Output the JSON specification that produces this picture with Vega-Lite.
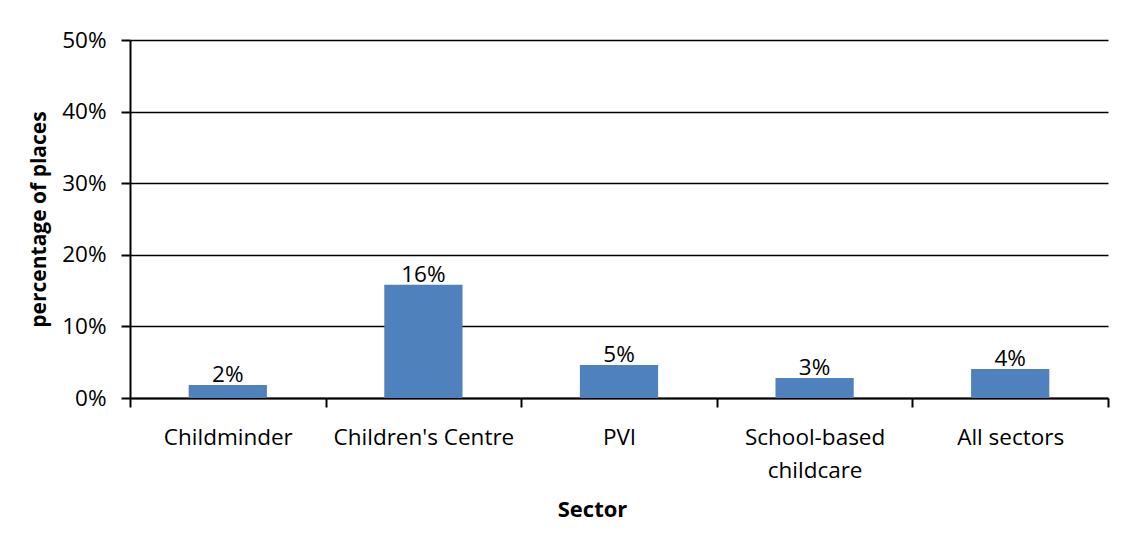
{
  "$schema": "https://vega.github.io/schema/vega-lite/v6.json",
  "autosize": "none",
  "width": 978,
  "height": 358,
  "padding": {"left": 130, "top": 40, "right": 20, "bottom": 154},
  "background": "white",
  "config": {
    "font": "Open Sans",
    "view": {"stroke": null},
    "axis": {"labelFont": "Open Sans", "titleFont": "Open Sans", "labelColor": "black", "titleColor": "black"}
  },
  "data": {
    "values": [
      {"sector": "Childminder", "share": 0.018, "label": "2%"},
      {"sector": "Children's Centre", "share": 0.158, "label": "16%"},
      {"sector": "PVI", "share": 0.046, "label": "5%"},
      {"sector": "School-based childcare", "share": 0.028, "label": "3%"},
      {"sector": "All sectors", "share": 0.0405, "label": "4%"}
    ]
  },
  "encoding": {
    "x": {
      "field": "sector",
      "type": "nominal",
      "sort": null,
      "scale": {"paddingInner": 0, "paddingOuter": 0},
      "axis": {
        "title": "Sector",
        "titleFontSize": 22,
        "titleFontWeight": "bold",
        "titlePadding": 18,
        "titleX": 462,
        "labelAngle": 0,
        "labelFontSize": 22.5,
        "labelPadding": 19,
        "labelLineHeight": 33,
        "labelLimit": 400,
        "labelOverlap": false,
        "labelExpr": "datum.value == 'School-based childcare' ? ['School-based', 'childcare'] : datum.value",
        "tickBand": "extent",
        "tickSize": 9,
        "tickColor": "black",
        "tickWidth": 2,
        "domainColor": "black",
        "domainWidth": 2,
        "grid": false
      }
    },
    "y": {
      "field": "share",
      "type": "quantitative",
      "scale": {"domain": [0, 0.5]},
      "axis": {
        "title": "percentage of places",
        "titleFontSize": 21,
        "titleFontWeight": "bold",
        "titlePadding": 12,
        "values": [0, 0.1, 0.2, 0.3, 0.4, 0.5],
        "format": ".0%",
        "labelFontSize": 22.5,
        "labelPadding": 15,
        "tickSize": 9,
        "tickColor": "black",
        "tickWidth": 2,
        "domainColor": "black",
        "domainWidth": 2,
        "grid": true,
        "gridColor": "black",
        "gridWidth": 1.6,
        "gridOpacity": 1
      }
    }
  },
  "layer": [
    {"mark": {"type": "bar", "color": "#4F81BD", "width": {"band": 0.4}}},
    {
      "mark": {"type": "text", "fontSize": 22.5, "color": "black", "baseline": "bottom", "dy": 2, "font": "Open Sans"},
      "encoding": {"text": {"field": "label"}}
    }
  ]
}
